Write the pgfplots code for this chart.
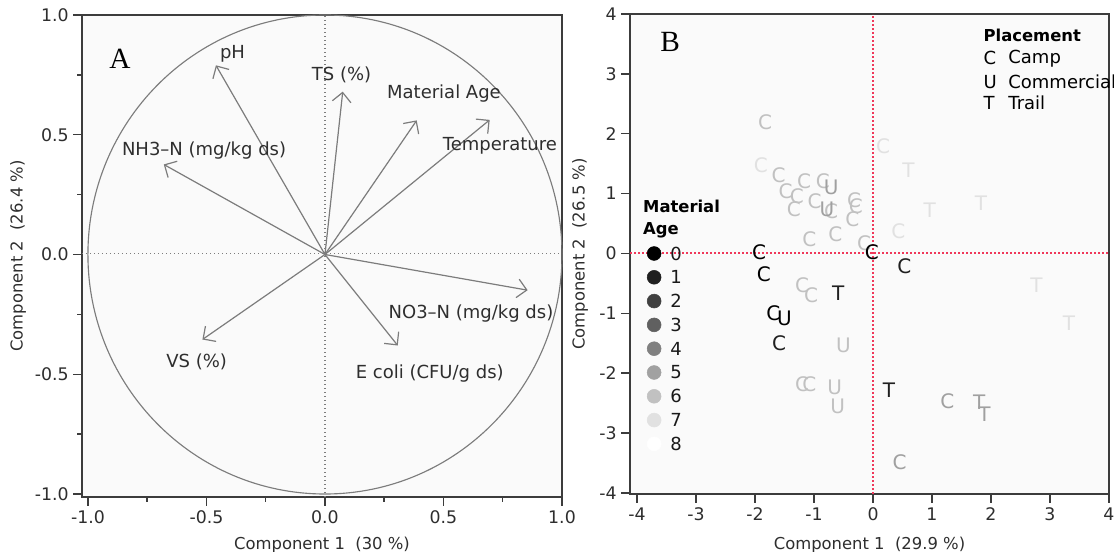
\documentclass[border=0pt]{standalone}
\usepackage{pgfplots}
\pgfplotsset{compat=1.18}
\usepackage{fontspec}
\setmainfont{DejaVu Sans}
\newfontfamily\panelfont{Liberation Serif}
\usetikzlibrary{arrows.meta}

\definecolor{framec}{HTML}{3C3C3C}
\definecolor{vecc}{HTML}{7C7C7C}
\definecolor{txtc}{HTML}{2E2E2E}
\definecolor{redline}{HTML}{F0385A}

\newcommand\ticksize{\fontsize{13}{15}\selectfont}
\newcommand\labsize{\fontsize{12.3}{14}\selectfont}
\newcommand\annsize{\fontsize{13.5}{16}\selectfont}
\newcommand\letsize{\fontsize{15}{17}\selectfont}

\pgfplotsset{
  jmp/.style={
    scale only axis, clip=false,
    axis background/.style={fill=black!2},
    axis line style={framec, line width=1.1pt},
    tick align=outside, xtick pos=lower, ytick pos=left,
    major tick length=6.5pt, minor tick length=3.5pt,
    every tick/.style={framec, line width=1.1pt},
    tick label style={font=\ticksize, text=txtc},
    label style={font=\labsize, text=txtc},
    /pgf/number format/assume math mode=true,
  },
}

\begin{document}
\begin{tikzpicture}
\useasboundingbox (0,0) rectangle (835.5pt,414pt);

% A: loadings
\begin{axis}[jmp, at={(61.5pt,41.25pt)}, anchor=south west,
  width=360pt, height=361.5pt,
  xmin=-1.025, xmax=1, ymin=-1.0125, ymax=1,
  xtick={-1,-0.5,0,0.5,1}, ytick={-1,-0.5,0,0.5,1},
  minor xtick={-0.75,-0.25,0.25,0.75}, minor ytick={-0.75,-0.25,0.25,0.75},
  x tick label style={/pgf/number format/fixed, /pgf/number format/fixed zerofill, /pgf/number format/precision=1},
  y tick label style={/pgf/number format/fixed, /pgf/number format/fixed zerofill, /pgf/number format/precision=1},
  xlabel={Component 1\ \ (30 \%)}, ylabel={Component 2\ \ (26.4 \%)},
  xlabel style={at={(axis description cs:0.5,-0.0996)}, anchor=center},
  ylabel style={at={(axis description cs:-0.1333,0.5)}, anchor=center},
]
\draw[vecc, line width=1pt, dash pattern=on 1pt off 2pt] (axis cs:0,-1.0125) -- (axis cs:0,1);
\draw[vecc, line width=1pt, dash pattern=on 1pt off 2pt] (axis cs:-1.025,0.003) -- (axis cs:1,0.003);
\draw[vecc, line width=0.85pt] (axis cs:0,0) ellipse [x radius=1, y radius=1];

\addplot[vecc, line width=0.9pt, -{Straight Barb[length=7pt,width=14pt]},
  quiver={u=\thisrow{u}, v=\thisrow{v}}] table {
x y u v
0 0 -0.46 0.79
0 0 0.075 0.68
0 0 0.387 0.56
0 0 0.695 0.562
0 0 -0.68 0.376
0 0 0.855 -0.149
0 0 0.307 -0.38
0 0 -0.517 -0.355
};

\node[font=\annsize, text=txtc] at (axis cs:-0.39,0.839) {pH};
\node[font=\annsize, text=txtc] at (axis cs:0.07,0.748) {TS (\%)};
\node[font=\annsize, text=txtc] at (axis cs:0.502,0.67) {Material Age};
\node[font=\annsize, text=txtc] at (axis cs:0.738,0.453) {Temperature};
\node[font=\annsize, text=txtc] at (axis cs:-0.51,0.436) {NH3--N (mg/kg ds)};
\node[font=\annsize, text=txtc] at (axis cs:0.616,-0.247) {NO3--N (mg/kg ds)};
\node[font=\annsize, text=txtc] at (axis cs:0.442,-0.497) {E coli (CFU/g ds)};
\node[font=\annsize, text=txtc] at (axis cs:-0.541,-0.45) {VS (\%)};
\node[font=\panelfont\fontsize{22}{24}\selectfont] at (axis cs:-0.865,0.818) {A};
\end{axis}

% B: scores
\begin{axis}[jmp, at={(472.5pt,43.5pt)}, anchor=south west,
  width=359.25pt, height=360pt,
  xmin=-4.119, xmax=4, ymin=-4.017, ymax=4,
  xtick={-4,...,4}, ytick={-4,...,4},
  xlabel={Component 1\ \ (29.9 \%)}, ylabel={Component 2\ \ (26.5 \%)},
  xlabel style={at={(axis description cs:0.5,-0.106)}, anchor=center},
  ylabel style={at={(axis description cs:-0.104,0.5)}, anchor=center},
  colormap/blackwhite, point meta min=0, point meta max=8,
]
\draw[redline, line width=1.2pt, dash pattern=on 1.4pt off 1.6pt] (axis cs:0,-4.017) -- (axis cs:0,4);
\draw[redline, line width=1.2pt, dash pattern=on 1.4pt off 1.6pt] (axis cs:-4.119,0.004) -- (axis cs:4,0.004);

% material age legend
\addplot[scatter, only marks, mark=*, mark size=5.2pt, point meta=explicit,
  scatter/use mapped color={draw=mapped color, fill=mapped color}]
  coordinates {(-3.71,0)[0] (-3.71,-0.3975)[1] (-3.71,-0.795)[2] (-3.71,-1.1925)[3]
    (-3.71,-1.59)[4] (-3.71,-1.9875)[5] (-3.71,-2.385)[6] (-3.71,-2.7825)[7] (-3.71,-3.18)[8]};
\pgfplotsinvokeforeach{0,...,8}{
  \node[anchor=west, inner sep=0pt, font=\annsize, text=black!90] at (axis cs:-3.44,{-0.3975*#1}) {#1};
}
\node[anchor=west, inner sep=0pt, font=\bfseries\labsize] at (axis cs:-3.9,0.785) {Material};
\node[anchor=west, inner sep=0pt, font=\bfseries\labsize] at (axis cs:-3.9,0.38) {Age};

% placement legend
\node[anchor=west, inner sep=0pt, font=\bfseries\labsize] at (axis cs:1.87,3.65) {Placement};
\node[anchor=west, inner sep=0pt, font=\annsize] at (axis cs:1.87,3.26) {C};
\node[anchor=west, inner sep=0pt, font=\annsize] at (axis cs:2.29,3.26) {Camp};
\node[anchor=west, inner sep=0pt, font=\annsize] at (axis cs:1.87,2.87) {U};
\node[anchor=west, inner sep=0pt, font=\annsize] at (axis cs:2.29,2.87) {Commercial};
\node[anchor=west, inner sep=0pt, font=\annsize] at (axis cs:1.87,2.51) {T};
\node[anchor=west, inner sep=0pt, font=\annsize] at (axis cs:2.29,2.51) {Trail};
\node[font=\panelfont\fontsize{22}{24}\selectfont] at (axis cs:-3.44,3.53) {B};

% scores, letter = placement, grey = material age
\addplot[scatter, only marks, mark=text, text mark as node=true,
  text mark={\lab},
  text mark style={font=\letsize, inner sep=0pt, anchor=center},
  point meta=\thisrow{age},
  visualization depends on={value \thisrow{lab} \as \lab},
  scatter/use mapped color={draw=mapped color, fill=mapped color, text=mapped color},
] table {
x y age lab
0.17 1.79 7 C
-1.90 1.48 7 C
0.60 1.39 7 T
0.96 0.73 7 T
1.83 0.84 7 T
0.43 0.38 7 C
2.77 -0.53 7 T
3.32 -1.17 7 T
-1.83 2.19 6 C
-1.60 1.30 6 C
-1.17 1.20 6 C
-0.85 1.20 6 C
-1.48 1.04 6 C
-1.29 0.95 6 C
-0.99 0.88 6 C
-1.34 0.74 6 C
-0.71 0.70 6 C
-0.32 0.89 6 C
-0.29 0.79 6 C
-0.35 0.57 6 C
-0.64 0.33 6 C
-1.08 0.23 6 C
-0.15 0.17 6 C
-1.20 -0.53 6 C
-1.05 -0.69 6 C
-0.50 -1.53 6 U
-1.20 -2.18 6 C
-1.08 -2.19 6 C
-0.65 -2.23 6 U
-0.60 -2.56 6 U
-0.71 1.11 5 U
-0.78 0.74 5 U
1.26 -2.46 5 C
1.80 -2.48 5 T
1.89 -2.68 5 T
0.45 -3.49 5 C
0.53 -0.21 1 C
-0.59 -0.67 1 T
-1.59 -1.50 1 C
0.27 -2.29 1 T
-0.02 0.02 0 C
-1.93 0.02 0 C
-1.85 -0.35 0 C
-1.69 -1.00 0 C
-1.50 -1.08 0 U
};
\end{axis}
\end{tikzpicture}
\end{document}
